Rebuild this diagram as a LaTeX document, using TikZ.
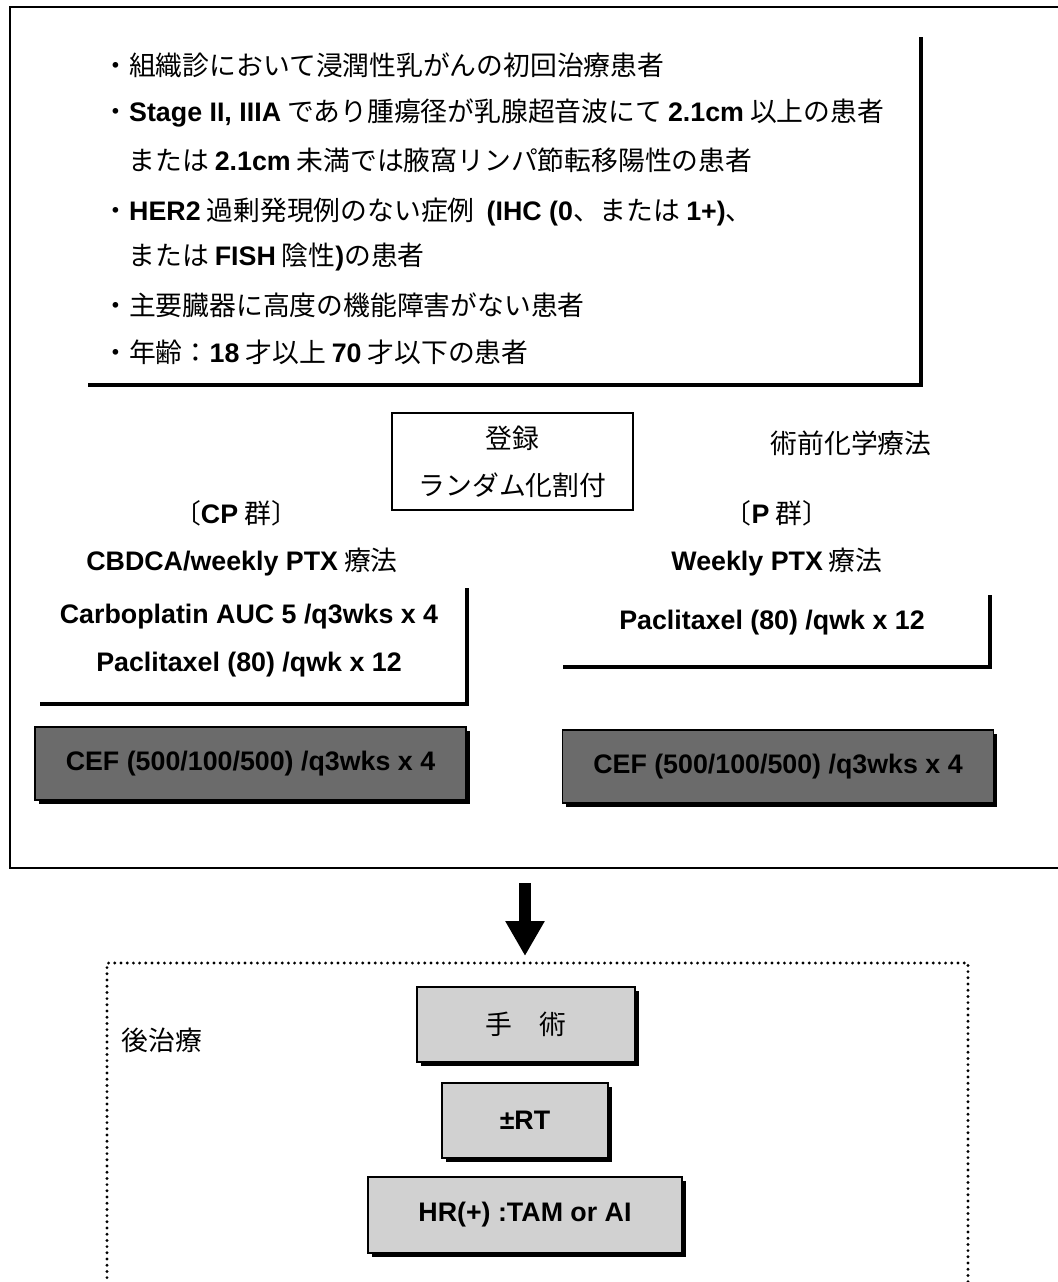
\documentclass[tikz,border=0pt]{standalone}
\usepackage{fontspec}
\setmainfont{Liberation Sans}
\newfontfamily\jpfont{Noto Sans CJK JP}
\usetikzlibrary{arrows.meta}
\usetikzlibrary{shadows}
\newcommand\eng[1]{{\rmfamily\bfseries #1}}

\begin{document}
\begin{tikzpicture}[
            x=0.5pt, y=-0.5pt,
            every node/.style={
                inner sep=0pt,
                font=\jpfont\fontsize{13.4pt}{23.5pt}\selectfont
            },
            frame line/.style={line width=1.1pt},
            shadow line/.style={line width=1.6pt},
            reg box/.style={
                draw,
                line width=1pt,
                minimum width=120.5pt,
                minimum height=48.5pt,
                align=center
            },
            grey box/.style={
                draw,
                line width=0.8pt,
                fill=black!18,
                drop shadow={shadow xshift=1.8pt, shadow yshift=-1.8pt, fill=black, opacity=1}
            },
            dark box/.style={
                grey box,
                fill=black!58,
                minimum width=215.5pt,
                minimum height=36.5pt
            },
            dot line/.style={line width=1.6pt, line cap=round, dash pattern=on 0pt off 3.1pt}
        ]
        \useasboundingbox (0, 0) rectangle (1058, 1282);
        % outer frame (open to the right)
        \draw[frame line] (1070, 7) -- (10, 7) -- (10, 868) -- (1070, 868);
        % inclusion criteria
        \draw[shadow line] (921, 37) -- (921, 385) -- (88, 385);
        \node[anchor=west] (incl1) at (102, 65) {・組織診において浸潤性乳がんの初回治療患者};
        \node[anchor=west] (incl2) at (102, 113) {・\eng{Stage II, IIIA} であり腫瘍径が乳腺超音波にて \eng{2.1cm} 以上の患者};
        \node[anchor=west] (incl3) at (128, 160) {または \eng{2.1cm} 未満では腋窩リンパ節転移陽性の患者};
        \node[anchor=west] (incl4) at (102, 212) {・\eng{HER2} 過剰発現例のない症例 \ \eng{(IHC (0}、または \eng{1+)}、};
        \node[anchor=west] (incl5) at (128, 257) {または \eng{FISH} 陰性\eng{)}の患者};
        \node[anchor=west] (incl6) at (102, 305) {・主要臓器に高度の機能障害がない患者};
        \node[anchor=west] (incl7) at (102, 352) {・年齢：\eng{18} 才以上 \eng{70} 才以下の患者};
        % registration
        \node[reg box] (regist) at (512.5, 461.5) {登録\\ランダム化割付};
        \node (neoadj) at (851, 443) {術前化学療法};
        % CP arm
        \node (cparm) at (236, 513) {〔\eng{CP} 群〕};
        \node (cpname) at (242, 562) {\eng{CBDCA/weekly PTX} 療法};
        \draw[shadow line] (467, 588) -- (467, 704) -- (40, 704);
        \node (cpcarbo) at (249, 617) {\eng{Carboplatin AUC 5 /q3wks x 4}};
        \node (cppacli) at (249, 665) {\eng{Paclitaxel (80) /qwk x 12}};
        \node[dark box] (cpcef) at (250.5, 763.5) {\eng{CEF (500/100/500) /q3wks x 4}};
        % P arm
        \node (parm) at (777, 513) {〔\eng{P} 群〕};
        \node (pname) at (777, 562) {\eng{Weekly PTX} 療法};
        \draw[shadow line] (990, 595) -- (990, 667) -- (563, 667);
        \node (ppacli) at (772, 623) {\eng{Paclitaxel (80) /qwk x 12}};
        \node[dark box] (pcef) at (778, 766.5) {\eng{CEF (500/100/500) /q3wks x 4}};
        % arrow
        \coordinate (arrtop) at (525, 883);
        \coordinate (arrtip) at (525, 956);
        \draw[line width=6pt, -{Triangle[width=18.5pt, length=17.5pt]}] (arrtop) -- (arrtip);
        % post-treatment
        \draw[dot line] (107, 1290) -- (107, 963) -- (968, 963) -- (968, 1290);
        \node (posttx) at (162, 1040) {後治療};
        \node[grey box, minimum width=109pt, minimum height=37.5pt] (surgery) at (526, 1024.5) {手　術};
        \node[grey box, minimum width=83pt, minimum height=37.5pt] (radio) at (525, 1120.5) {\eng{±RT}};
        \node[grey box, minimum width=157pt, minimum height=38pt] (hormone) at (525, 1215) {\eng{HR(+) :TAM or AI}};
\end{tikzpicture}
\end{document}
